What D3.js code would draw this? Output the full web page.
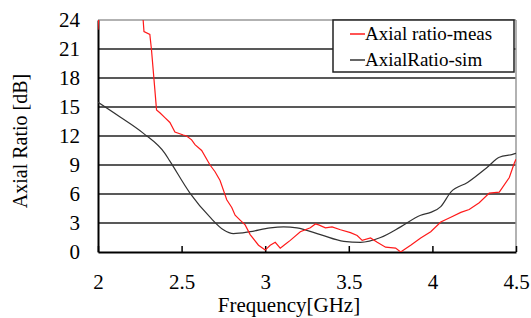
<!DOCTYPE html>
<script src="https://cdn.jsdelivr.net/npm/d3@7"></script>
<style>
    body { margin: 0; background: #fff; }
    svg text { font-family: "Liberation Serif", "Times New Roman", serif; fill: #000; }
</style>
<svg id="chart" width="531" height="318"></svg>
<script>
    // measured axial ratio (null = off-scale gap)
    var measFreq = [2.0, 2.003, null, 2.27, 2.275, 2.31, 2.32, 2.34, 2.35, 2.37, 2.40, 2.43, 2.46, 2.51, 2.53, 2.56, 2.58, 2.62, 2.67, 2.70, 2.73, 2.77, 2.80, 2.82, 2.85, 2.88, 2.91, 2.96, 3.00, 3.03, 3.06, 3.09, 3.12, 3.15, 3.21, 3.27, 3.30, 3.32, 3.36, 3.40, 3.45, 3.51, 3.55, 3.58, 3.63, 3.67, 3.72, 3.78, 3.81, 3.87, 3.93, 3.99, 4.05, 4.11, 4.17, 4.22, 4.28, 4.34, 4.40, 4.46, 4.49, 4.5];
    var measAR = [23.0, 24.0, null, 24.0, 22.8, 22.5, 20.9, 16.8, 14.7, 14.4, 13.9, 13.4, 12.4, 12.1, 12.0, 11.6, 11.1, 10.5, 9.0, 8.3, 7.4, 5.4, 4.6, 3.8, 3.3, 2.8, 1.8, 0.7, 0.2, 0.7, 1.0, 0.4, 0.8, 1.2, 2.1, 2.5, 2.9, 2.8, 2.5, 2.6, 2.3, 2.0, 1.7, 1.2, 1.45, 1.0, 0.5, 0.4, 0.0, 0.7, 1.45, 2.1, 3.1, 3.6, 4.1, 4.4, 5.1, 6.1, 6.2, 7.7, 9.2, 9.6];

    // simulated axial ratio
    var simFreq = [2.0, 2.13, 2.27, 2.40, 2.43, 2.55, 2.67, 2.75, 2.81, 2.91, 3.03, 3.11, 3.19, 3.33, 3.47, 3.57, 3.69, 3.81, 3.93, 3.99, 4.05, 4.11, 4.21, 4.33, 4.40, 4.48, 4.5];
    var simAR = [15.5, 14.0, 12.3, 10.2, 9.4, 6.1, 3.6, 2.3, 1.9, 2.1, 2.5, 2.6, 2.5, 1.8, 1.1, 1.0, 1.5, 2.6, 3.8, 4.1, 4.7, 6.2, 7.2, 8.8, 9.8, 10.1, 10.2];

    var xTicks = [2, 2.5, 3, 3.5, 4, 4.5];
    var yTicks = [0, 3, 6, 9, 12, 15, 18, 21, 24];
    var seriesNames = ["Axial ratio-meas", "AxialRatio-sim"];

    var svg = d3.select("#chart");
    var x = d3.scaleLinear().domain([2, 4.5]).range([98, 516]);
    var y = d3.scaleLinear().domain([0, 24]).range([252, 20]);

    svg.append("clipPath").attr("id", "clip")
        .append("rect").attr("x", 98).attr("y", 20).attr("width", 418).attr("height", 232);

    // gridlines
    svg.append("g").selectAll("line")
        .data(yTicks.filter(function(d) { return d > 0; }))
        .join("line")
        .attr("x1", x(2)).attr("x2", x(4.5))
        .attr("y1", function(d) { return y(d); })
        .attr("y2", function(d) { return y(d); })
        .attr("stroke", function(d) { return d === 24 ? "#999" : "#222"; })
        .attr("stroke-width", 1.5);

    // right border
    svg.append("line")
        .attr("x1", x(4.5)).attr("x2", x(4.5)).attr("y1", y(24)).attr("y2", y(0))
        .attr("stroke", "#999").attr("stroke-width", 1.5);

    // axes
    var xAxis = svg.append("g")
        .attr("transform", "translate(0," + y(0) + ")")
        .call(d3.axisBottom(x).tickValues(xTicks).tickSize(-6).tickSizeOuter(0).tickPadding(22).tickFormat(d3.format("")));
    xAxis.select(".domain").attr("stroke", "#000").attr("stroke-width", 2);
    xAxis.selectAll(".tick line").attr("stroke", "#000").attr("stroke-width", 1.5);
    xAxis.selectAll("text").attr("font-size", 21);

    var yAxis = svg.append("g")
        .attr("transform", "translate(" + x(2) + ",0)")
        .call(d3.axisLeft(y).tickValues(yTicks).tickSize(0).tickPadding(18));
    yAxis.select(".domain").attr("stroke", "#000").attr("stroke-width", 2);
    yAxis.selectAll("text").attr("font-size", 21);

    var line = d3.line()
        .defined(function(d) { return d[0] !== null; })
        .x(function(d) { return x(d[0]); })
        .y(function(d) { return y(d[1]); });

    var g = svg.append("g").attr("clip-path", "url(#clip)");
    g.append("path")
        .datum(simFreq.map(function(f, i) { return [f, simAR[i]]; }))
        .attr("fill", "none").attr("stroke", "#333").attr("stroke-width", 1.2)
        .attr("d", line.curve(d3.curveMonotoneX));
    g.append("path")
        .datum(measFreq.map(function(f, i) { return [f, measAR[i]]; }))
        .attr("fill", "none").attr("stroke", "#ff1a1a").attr("stroke-width", 1.2)
        .attr("d", line.curve(d3.curveLinear));

    // axis titles
    svg.append("text")
        .attr("x", 289).attr("y", 312)
        .attr("text-anchor", "middle").attr("font-size", 21)
        .text("Frequency[GHz]");
    svg.append("text")
        .attr("transform", "translate(27,141) rotate(-90)")
        .attr("text-anchor", "middle").attr("font-size", 20)
        .text("Axial Ratio [dB]");

    // legend
    var lg = svg.append("g").attr("transform", "translate(333,20)");
    lg.append("rect").attr("width", 181).attr("height", 52)
        .attr("fill", "#fff").attr("stroke", "#222").attr("stroke-width", 1.5);
    var colors = ["#ff1a1a", "#333"];
    seriesNames.forEach(function(name, i) {
        var ly = 14 + i * 26;
        lg.append("line").attr("x1", 17).attr("x2", 32).attr("y1", ly).attr("y2", ly)
            .attr("stroke", colors[i]).attr("stroke-width", 1.5);
        lg.append("text").attr("x", 32).attr("y", ly + 6).attr("font-size", 19)
            .text(name);
    });
</script>
